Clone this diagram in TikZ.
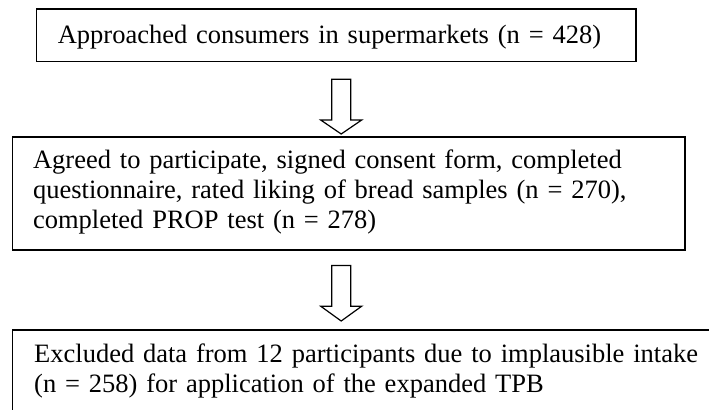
\documentclass[tikz,border=0pt]{standalone}
\usepackage{fontspec}
\setmainfont{Liberation Serif}
\usetikzlibrary{calc}
\tikzset{
  flowbox/.style={draw=black, line width=0.8pt, rectangle, anchor=north west,
    align=left, inner ysep=0pt, font=\fontsize{13.25pt}{15pt}\selectfont},
  hollowarrow/.style={draw=black, line width=0.6pt, fill=white, line join=miter}
}
\newcommand{\blkarrow}[2]{%
  \draw[hollowarrow] ($(#1)+(-9.5,0)$) -- ($(#1)+(-9.5,40.7)$) -- ($(#1)+(-20.5,40.7)$)
    -- (#2) -- ($(#1)+(20.5,40.7)$) -- ($(#1)+(9.5,40.7)$) -- ($(#1)+(9.5,0)$) -- cycle;}
\begin{document}
\begin{tikzpicture}[x=0.5pt,y=-0.5pt]
\clip (0,0) rectangle (709,409);
\fill[white] (0,0) rectangle (709,409);
% boxes
\node[flowbox, inner xsep=10.65pt, text width=278.35pt, text height=17.35pt, text depth=9pt]
  (box1) at (35.7,8) {Approached consumers in supermarkets (n = 428)};
\node[flowbox, inner xsep=10.3pt, text width=315.55pt, text height=16pt, text depth=40.65pt]
  (box2) at (11.7,136) {Agreed to participate, signed consent form, completed\\
  questionnaire, rated liking of bread samples (n = 270),\\
  completed PROP test (n = 278)};
\node[flowbox, inner xsep=10.85pt, text width=332pt, text height=16.35pt, text depth=29pt]
  (box3) at (11.7,329.3) {Excluded data from 12 participants due to implausible intake\\
  (n = 258) for application of the expanded TPB};
% arrows
\coordinate (a1s) at (341.2,79.3);
\coordinate (a1t) at (341.2,134);
\coordinate (a2s) at (341.2,265.5);
\coordinate (a2t) at (341.2,321);
\blkarrow{a1s}{a1t}
\blkarrow{a2s}{a2t}
\end{tikzpicture}
\end{document}
